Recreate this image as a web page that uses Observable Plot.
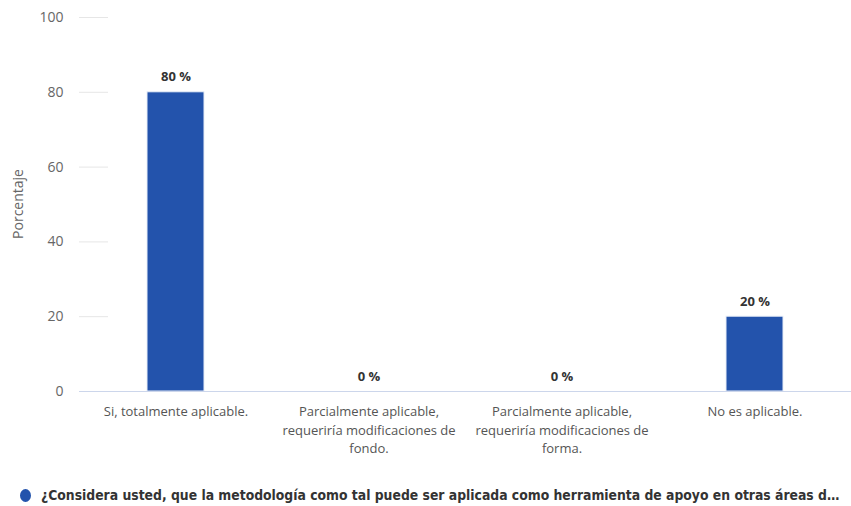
<!DOCTYPE html>
<html>
<head>
<meta charset="utf-8">
<script src="https://cdn.jsdelivr.net/npm/d3@7"></script>
<script src="https://cdn.jsdelivr.net/npm/@observablehq/plot@0.6"></script>
<style>
  body { margin: 0; background: #fff; font-family: "Open Sans", "Noto Sans", sans-serif; }
  #legend { display: flex; align-items: center; height: 26px; padding-left: 20px; padding-top: 12px; }
  #legend .dot { width: 11px; height: 13px; border-radius: 50%; background: #2353ac; margin-right: 10px; }
  #legend .txt { font-family: "Liberation Sans Narrow", "DejaVu Sans Condensed", sans-serif; font-weight: bold; font-size: 13.8px; color: #333; white-space: nowrap; }
</style>
</head>
<body>
<div id="chart"></div>
<div id="legend"><span class="dot"></span><span class="txt" id="legendText"></span></div>
<script>
const categories = [
  "Si, totalmente aplicable.",
  "Parcialmente aplicable, requeriría modificaciones de fondo.",
  "Parcialmente aplicable, requeriría modificaciones de forma.",
  "No es aplicable."
];
const categoryLabels = [
  "Si, totalmente aplicable.",
  "Parcialmente aplicable,\nrequeriría modificaciones de\nfondo.",
  "Parcialmente aplicable,\nrequeriría modificaciones de\nforma.",
  "No es aplicable."
];
const values = [80, 0, 0, 20];
const yTicks = [0, 20, 40, 60, 80, 100];
const seriesName = "¿Considera usted, que la metodología como tal puede ser aplicada como herramienta de apoyo en otras áreas d…";
const yLabel = "Porcentaje";

const data = categories.map((c, i) => ({category: c, value: values[i]}));
const labelOf = new Map(categories.map((c, i) => [c, categoryLabels[i]]));

const W = 851, H = 470, MT = 17, MB = 79, ML = 79;
const shortGrid = (index, scales, values, dims, context, next) => {
  const g = next(index, scales, values, dims, context);
  d3.select(g).selectAll("line").attr("x1", dims.marginLeft).attr("x2", dims.marginLeft + 29);
  return g;
};
const plot = Plot.plot({
  width: W,
  height: H,
  marginTop: MT,
  marginBottom: MB,
  marginLeft: ML,
  marginRight: 0,
  style: {fontFamily: "'Open Sans', 'Noto Sans', sans-serif", fontSize: "12px", color: "#666"},
  x: {domain: categories, paddingInner: 0.705, paddingOuter: 0.3525, label: null},
  y: {domain: [0, 100], label: null},
  marks: [
    Plot.ruleY(yTicks.filter(d => d > 0), {stroke: "#e6e6e6", strokeWidth: 1, render: shortGrid}),
    Plot.barY(data, {x: "category", y: "value", fill: "#2353ac", stroke: "#e8eef8", strokeWidth: 1}),
    Plot.ruleY([0], {stroke: "#ccd6eb", strokeWidth: 1}),
    Plot.text(data, {x: "category", y: "value", text: d => `${d.value} %`, dy: -15, fontWeight: "bold", fill: "#333", fontSize: 13}),
    Plot.axisY({ticks: yTicks, tickSize: 0, tickPadding: 16, fill: "#666", fontSize: 14}),
    Plot.axisX({tickSize: 0, tickPadding: 12, tickFormat: d => labelOf.get(d), fill: "#555", fontSize: 13, lineHeight: 1.4})
  ]
});
document.getElementById("chart").appendChild(plot);
document.getElementById("legendText").textContent = seriesName;

d3.select(plot).append("text")
  .attr("transform", `translate(18, ${(MT + (H - MB)) / 2}) rotate(-90)`)
  .attr("text-anchor", "middle")
  .attr("dy", "0.35em")
  .attr("fill", "#666")
  .attr("font-size", 14)
  .text(yLabel);
</script>
</body>
</html>
